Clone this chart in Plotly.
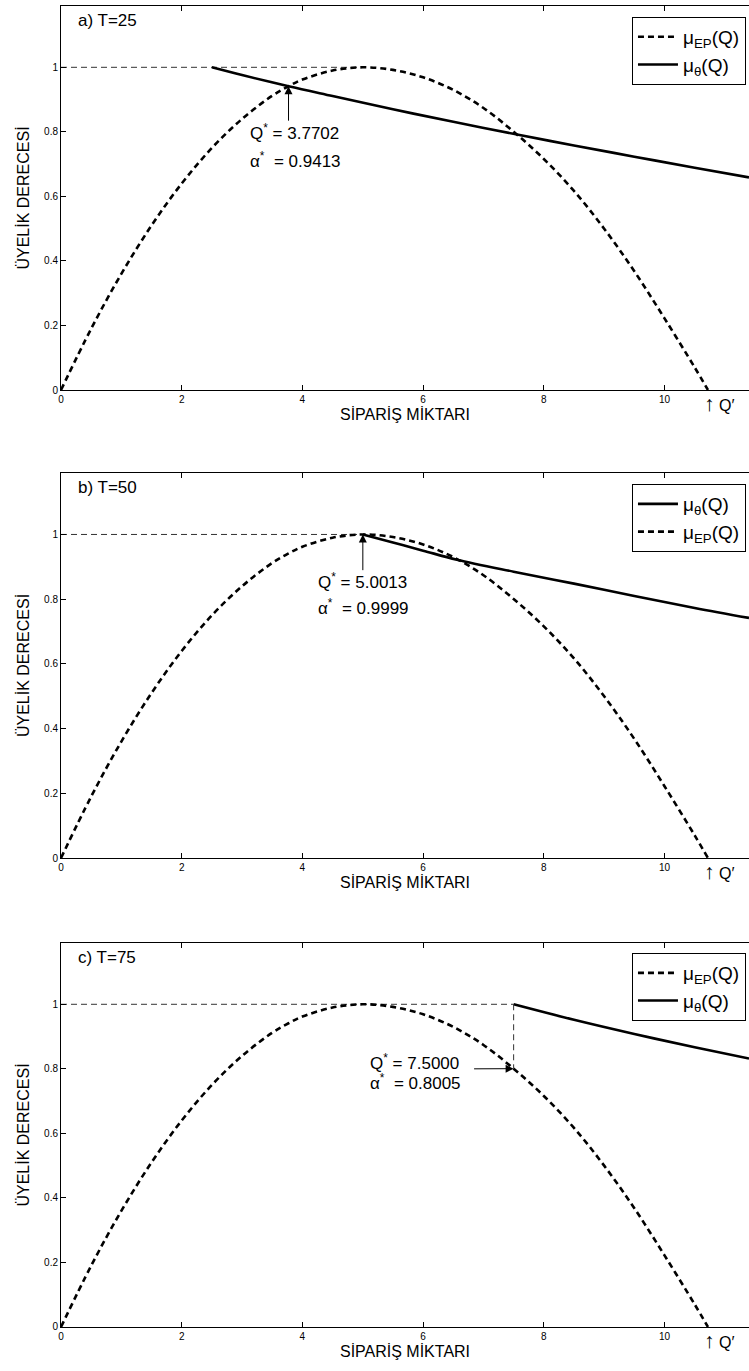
import plotly.graph_objects as go
from plotly.subplots import make_subplots

# Shared membership curve of the expected profit, mu_EP(Q)
q_ep = [0, 0.5, 1, 1.5, 2, 2.5, 3, 3.5, 3.7702, 4, 4.5, 5, 5.5, 6, 6.5, 7, 7.5,
        8, 8.5, 9, 9.5, 10, 10.5, 10.72]
mu_ep = [0, 0.19, 0.36, 0.51, 0.64, 0.75, 0.84, 0.912, 0.9413, 0.962, 0.99, 1.0,
         0.992, 0.969, 0.93, 0.874, 0.8005, 0.716, 0.617, 0.50, 0.368, 0.222, 0.07, 0]
q_prime = 10.72

# mu_theta(Q) for each T
q_th_25 = [2.5, 3.0, 3.7702, 4.5, 5.5, 6.5, 7.6, 8.5, 9.5, 10.5, 11.4]
mu_th_25 = [1.0, 0.976, 0.9413, 0.911, 0.870, 0.831, 0.79, 0.758, 0.723, 0.689, 0.659]
q_th_50 = [5.0013, 5.5, 6.0, 6.56, 7.5, 8.5, 9.5, 10.5, 11.4]
mu_th_50 = [0.9999, 0.975, 0.95, 0.922, 0.885, 0.848, 0.81, 0.773, 0.742]
q_th_75 = [7.5, 8.5, 9.5, 10.5, 11.4]
mu_th_75 = [1.0, 0.952, 0.908, 0.867, 0.832]

panel_titles = ["a) T=25", "b) T=50", "c) T=75"]
opt_q = [3.7702, 5.0013, 7.5000]
opt_alpha = [0.9413, 0.9999, 0.8005]
ref_line_end = [5.0, 5.0, 7.5]
x_ticks = [0, 2, 4, 6, 8, 10]
y_ticks = [0, 0.2, 0.4, 0.6, 0.8, 1]

FONT = "Liberation Sans, Arial, sans-serif"
NBSP = "\u00a0"

fig = make_subplots(rows=3, cols=1, vertical_spacing=0.0)

th_data = [(q_th_25, mu_th_25), (q_th_50, mu_th_50), (q_th_75, mu_th_75)]
legend_names = ["legend", "legend2", "legend3"]
# legend order: dashed first except in panel b
ep_first = [True, False, True]

for i in range(3):
    row = i + 1
    lg = legend_names[i]
    ep_trace = go.Scatter(x=q_ep, y=mu_ep, mode="lines", line_shape="spline",
                          line=dict(color="black", width=2.6, dash="6px,4px"),
                          name="μ<sub>EP</sub>(Q)", legend=lg)
    th_trace = go.Scatter(x=th_data[i][0], y=th_data[i][1], mode="lines", line_shape="spline",
                          line=dict(color="black", width=2.6),
                          name="μ<sub>θ</sub>(Q)", legend=lg)
    # thin dashed guide at membership 1
    guide = go.Scatter(x=[0, ref_line_end[i]], y=[1, 1], mode="lines",
                       line=dict(color="#333333", width=1, dash="6px,4px"),
                       showlegend=False, hoverinfo="skip")
    fig.add_trace(guide, row=row, col=1)
    if ep_first[i]:
        fig.add_trace(ep_trace, row=row, col=1)
        fig.add_trace(th_trace, row=row, col=1)
    else:
        fig.add_trace(th_trace, row=row, col=1)
        fig.add_trace(ep_trace, row=row, col=1)

# vertical guide in panel c
fig.add_trace(go.Scatter(x=[opt_q[2], opt_q[2]], y=[1, opt_alpha[2]], mode="lines",
                         line=dict(color="#333333", width=1, dash="6px,4px"),
                         showlegend=False, hoverinfo="skip"), row=3, col=1)

# panel domains in paper coordinates
domains = [[0.7093, 1.0], [0.3550, 0.6465], [0.0, 0.2907]]
for i in range(3):
    xa = "xaxis" if i == 0 else f"xaxis{i+1}"
    ya = "yaxis" if i == 0 else f"yaxis{i+1}"
    fig.layout[xa].update(range=[0, 11.4], domain=[0, 1], tickvals=x_ticks,
                          ticks="inside", ticklen=5, tickcolor="black", showline=True,
                          linecolor="black", linewidth=1, mirror="ticks", showgrid=False,
                          zeroline=False, tickfont=dict(size=10, color="black"),
                          title=dict(text="SİPARİŞ MİKTARI", standoff=4,
                                     font=dict(size=16, color="black")))
    fig.layout[ya].update(range=[0, 1.19], domain=domains[i], tickvals=y_ticks,
                          ticktext=["0", "0.2", "0.4", "0.6", "0.8", "1"],
                          ticks="inside", ticklen=5, tickcolor="black", showline=True,
                          linecolor="black", linewidth=1, mirror=False, showgrid=False,
                          zeroline=False, tickfont=dict(size=10, color="black"),
                          title=dict(text="ÜYELİK DERECESİ", standoff=10,
                                     font=dict(size=16, color="black")))

# legends
legend_tops = [0.9917, 0.6381, 0.2831]
legend_style = dict(xref="paper", yref="paper", x=0.9956, xanchor="right", yanchor="top",
                    bordercolor="black", borderwidth=1, bgcolor="white",
                    font=dict(size=19, color="black", family=FONT), tracegroupgap=0,
                    itemwidth=40, traceorder="normal")
fig.update_layout(legend=dict(y=legend_tops[0], **legend_style),
                  legend2=dict(y=legend_tops[1], **legend_style),
                  legend3=dict(y=legend_tops[2], **legend_style))

annotations = []
# arrow tails for each panel (data coordinates)
tails = [(3.7702, 0.83), (5.0013, 0.885), (6.82, 0.80)]
text_pos = [(3.10, 0.80, 0.712), (4.22, 0.855, 0.777), (5.09, 0.82, 0.759)]
for i in range(3):
    xr = "x" if i == 0 else f"x{i+1}"
    yr = "y" if i == 0 else f"y{i+1}"
    annotations.append(dict(xref=xr, yref=yr, x=0.25, y=1.145, xanchor="left",
                            yanchor="middle", text=panel_titles[i], showarrow=False,
                            font=dict(size=17, color="black", family=FONT)))
    annotations.append(dict(xref=xr, yref=yr, x=opt_q[i], y=opt_alpha[i],
                            axref=xr, ayref=yr, ax=tails[i][0], ay=tails[i][1],
                            text="", showarrow=True, arrowhead=2, arrowsize=1.6,
                            arrowwidth=1, arrowcolor="black"))
    tx, ty1, ty2 = text_pos[i]
    annotations.append(dict(xref=xr, yref=yr, x=tx, y=ty1, xanchor="left",
                            yanchor="middle", showarrow=False,
                            text=f"Q<sup>*</sup> = {opt_q[i]:.4f}",
                            font=dict(size=17, color="black", family=FONT)))
    annotations.append(dict(xref=xr, yref=yr, x=tx, y=ty2, xanchor="left",
                            yanchor="middle", showarrow=False,
                            text=f"α<sup>*</sup>{NBSP}{NBSP}= {opt_alpha[i]:.4f}",
                            font=dict(size=17, color="black", family=FONT)))
    annotations.append(dict(xref=xr, yref=f"{yr} domain", x=q_prime - 0.1, y=-0.035,
                            xanchor="left", yanchor="middle", showarrow=False,
                            text="<span style='font-size:21px'>↑</span> Q′",
                            font=dict(size=16, color="black", family=FONT)))

fig.update_layout(annotations=annotations,
                  width=749, height=1371, margin=dict(l=61, r=0, t=6, b=44),
                  paper_bgcolor="white", plot_bgcolor="white",
                  font=dict(family=FONT, color="black"))

fig.write_html("out.html")
